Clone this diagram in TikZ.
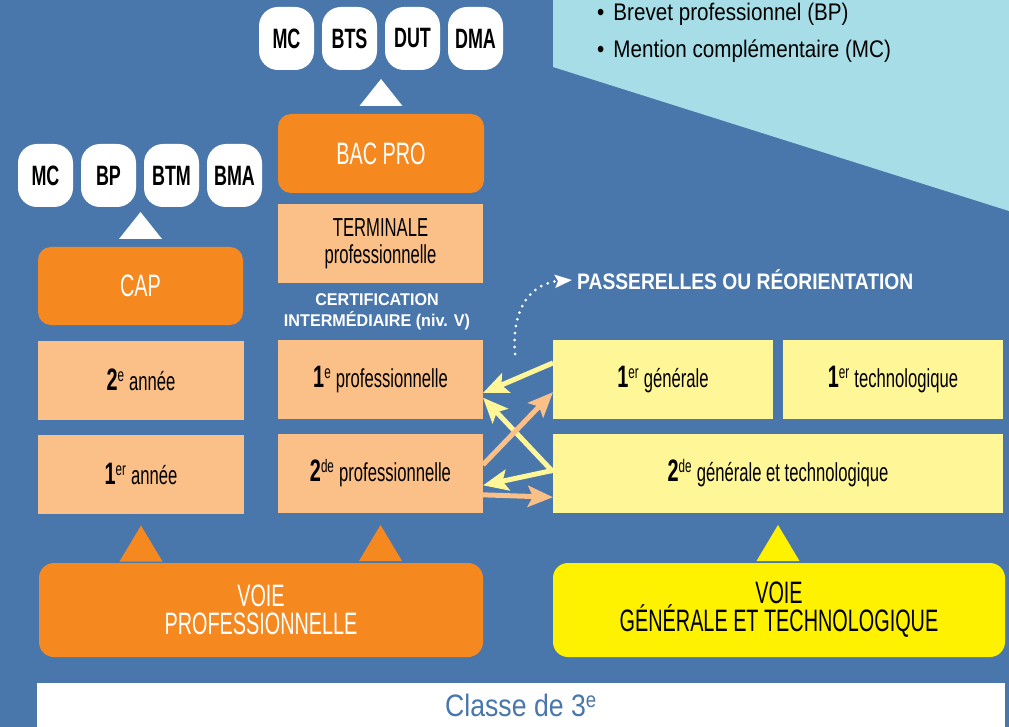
\documentclass[tikz,border=0pt]{standalone}
\usepackage{fontspec}
\setmainfont{Liberation Sans}
\newfontfamily\dispfont[FakeStretch=0.64]{Liberation Sans}
\newfontfamily\condfont[FakeStretch=0.86]{Liberation Sans}
\newfontfamily\certfont[FakeStretch=0.95]{Liberation Sans}
\usetikzlibrary{arrows.meta,calc}

\definecolor{bgblue}{HTML}{4A77AB}
\definecolor{paleblue}{HTML}{A6DDE6}
\definecolor{darkorange}{HTML}{F5881F}
\definecolor{peach}{HTML}{FBBF88}
\definecolor{paleyellow}{HTML}{FFF698}
\definecolor{brightyellow}{HTML}{FFF200}

\newcommand{\yr}[2]{{\fontsize{31}{31}\selectfont\bfseries #1}\textsuperscript{#2}}

\begin{document}
\begin{tikzpicture}[x=1pt,y=-1pt,
	pill/.style={fill=white,rounded corners=19pt,minimum width=55pt,minimum height=63pt,inner sep=0pt,outer sep=0pt,font=\dispfont\bfseries\fontsize{28}{28}\selectfont},
	diploma/.style={fill=darkorange,rounded corners=13pt,minimum height=79pt,inner sep=0pt,outer sep=0pt,text=white,font=\dispfont\fontsize{31}{31}\selectfont},
	yearpro/.style={fill=peach,minimum width=205pt,minimum height=79pt,inner sep=0pt,outer sep=0pt,align=center,font=\dispfont\fontsize{26}{27}\selectfont},
	yeargen/.style={yearpro,fill=paleyellow},
	voie/.style={rounded corners=15pt,minimum height=94pt,inner sep=0pt,outer sep=0pt,align=center,font=\dispfont\fontsize{31}{28}\selectfont},
	passyellow/.style={paleyellow,line width=5pt,-{Stealth[length=25pt,width=21pt,inset=5pt]}},
	passorange/.style={passyellow,peach},
	bullet/.style={anchor=base west,inner sep=0pt,font=\condfont\fontsize{24}{24}\selectfont}]
	%BACKGROUND
	\useasboundingbox (0,0) rectangle (1009,727);
	\fill[bgblue] (0,0) rectangle (1009,727);
	\fill[paleblue] (553,0) -- (1009,0) -- (1009,211) -- (553,67) -- cycle;
	
	%LIST
	\node[bullet] (bp) at (597,21) {\textbullet\hspace{9pt}Brevet professionnel (BP)};
	\node[bullet] (mc) at (597,58) {\textbullet\hspace{9pt}Mention compl\'ementaire (MC)};
	
	%DIPLOMAS
	\foreach \t [count=\i] in {MC,BTS,DUT,DMA} \node[pill] (high\i) at ({223.5+63*\i},38.5) {\t};
	\foreach \t [count=\i] in {MC,BP,BTM,BMA} \node[pill] (low\i) at ({-17.5+63*\i},175.5) {\t};
	\node[diploma,minimum width=206pt] (bacpro) at (381,153.5) {BAC PRO};
	\node[diploma,minimum width=205pt,minimum height=78pt] (cap) at (140.5,286) {CAP};
	
	%YEARS
	\node[yearpro] (term) at (380.5,243.5) {TERMINALE\\professionnelle};
	\node[align=center,inner sep=0pt,text=white,font=\certfont\bfseries\fontsize{17}{21}\selectfont] (certif) at (377,312) {CERTIFICATION\\INTERM\'EDIAIRE (niv. V)};
	\node[yearpro] (pro1) at (380.5,379.5) {\yr{1}{e} professionnelle};
	\node[yearpro] (pro2) at (380.5,473.5) {\yr{2}{de} professionnelle};
	\node[yearpro,minimum width=206pt] (cap2) at (141,380) {\yr{2}{e} ann\'ee};
	\node[yearpro,minimum width=206pt] (cap1) at (141,474) {\yr{1}{er} ann\'ee};
	\node[yeargen,minimum width=220pt] (gen1) at (663,379.5) {\yr{1}{er} g\'en\'erale};
	\node[yeargen,minimum width=220pt] (tech1) at (893,379.5) {\yr{1}{er} technologique};
	\node[yeargen,minimum width=450pt] (gen2) at (778,473.5) {\yr{2}{de} g\'en\'erale et technologique};
	
	%PATHS
	\node[voie,fill=darkorange,text=white,minimum width=444pt] (voiepro) at (261,610) {VOIE\\PROFESSIONNELLE};
	\node[voie,fill=brightyellow,minimum width=452pt] (voiegen) at (779,610) {VOIE\\G\'EN\'ERALE ET TECHNOLOGIQUE};
	\node[fill=white,minimum width=968pt,minimum height=44pt,inner sep=0pt,text=bgblue,font=\condfont\fontsize{31}{31}\selectfont] (troisieme) at (521,705) {Classe de 3\textsuperscript{e}};
	
	%TRIANGLES
	\foreach \b in {cap,bacpro} \fill[white] ($(\b.north)+(-21.5,-8)$) -- ($(\b.north)+(21.5,-8)$) -- ($(\b.north)+(0,-35)$) -- cycle;
	\foreach \b/\c in {cap1/darkorange,pro2/darkorange,gen2/brightyellow} \fill[\c] ($(\b.south)+(-21.5,48)$) -- ($(\b.south)+(21.5,48)$) -- ($(\b.south)+(0,12)$) -- cycle;
	
	%PASSERELLES
	\node[anchor=west,inner sep=0pt,text=white,font=\condfont\bfseries\fontsize{22.4}{23}\selectfont] (pass) at (577,280) {PASSERELLES OU R\'EORIENTATION};
	\coordinate (dotstart) at (515,354);
	\draw[white,line width=3pt,dash pattern=on 0pt off 7pt,line cap=round,-{Stealth[length=17pt,width=13pt,inset=3pt]}] (dotstart) .. controls (511,306) and (533,283) .. ([xshift=-5pt]pass.west);
	\draw[passyellow] ($(gen1.north west)!0.29!(gen1.south west)$) -- ($(pro1.north east)!0.67!(pro1.south east)$);
	\draw[passyellow] ($(gen2.north west)!0.48!(gen2.south west)$) -- ($(pro1.north east)!0.73!(pro1.south east)$);
	\draw[passyellow] ($(gen2.north west)!0.46!(gen2.south west)$) -- ($(pro2.north east)!0.65!(pro2.south east)$);
	\draw[passorange] ($(pro2.north east)!0.39!(pro2.south east)$) -- ($(gen1.north west)!0.66!(gen1.south west)$);
	\draw[passorange] ($(pro2.north east)!0.77!(pro2.south east)$) -- ($(gen2.north west)!0.8!(gen2.south west)$);
\end{tikzpicture}
\end{document}
